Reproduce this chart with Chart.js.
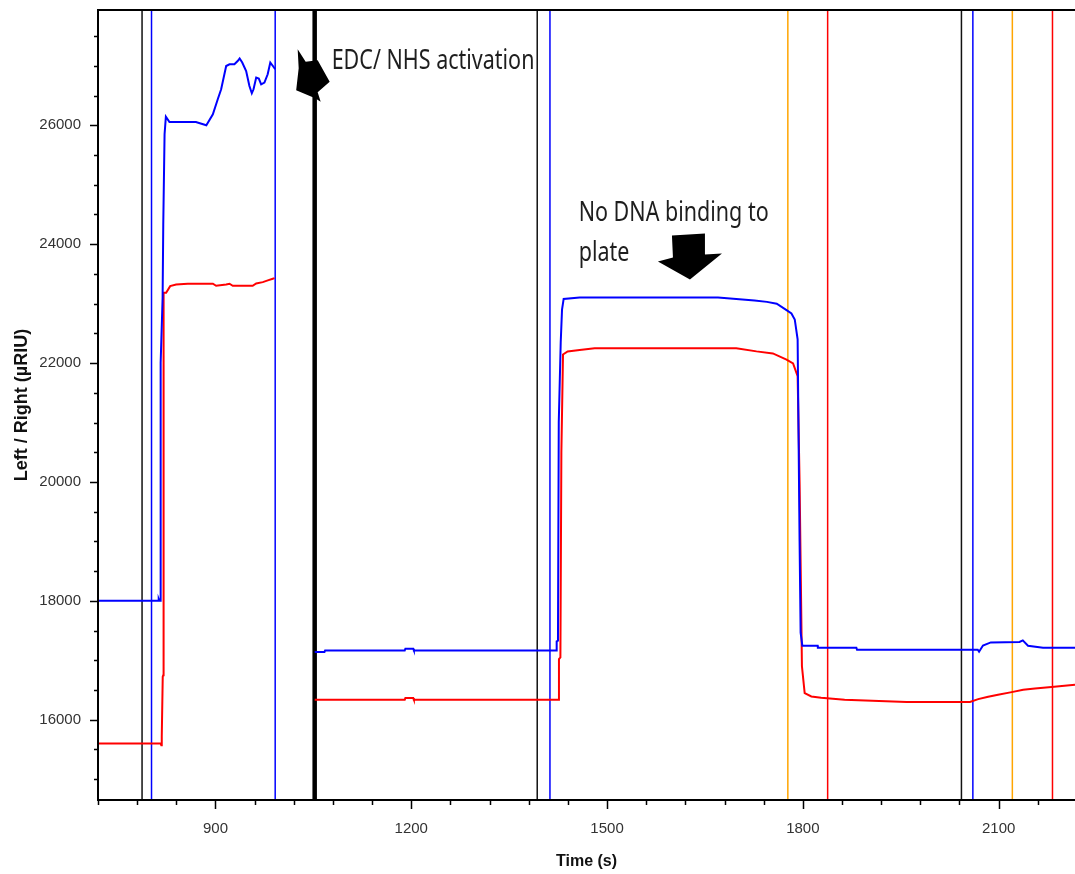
<!DOCTYPE html>
<html>
<head>
<meta charset="utf-8">
<title>Left / Right sensorgram</title>
<script src="https://cdn.jsdelivr.net/npm/chart.js@4.4.0/dist/chart.umd.min.js"></script>
<style>
  body { margin: 0; background: #fff; }
</style>
</head>
<body>
<canvas id="sensorgram" width="1075" height="874"></canvas>
<script>
// axis ranges (time in s, signal in µRIU)
var timeMin = 720, timeMax = 2217;
var riuMin = 14650, riuMax = 27940;

// left channel trace [time, µRIU], null = no data while the cell was switched
var leftTrace = [
  [720,18000],[812,18000],[813,18030],[814,18000],[815,18000],[816,22000],[819,23100],
  [820,24330],[822,25850],[824,26146],[829.5,26056],[870,26056],[886,26000],[896,26185],
  [903.5,26438],[908.7,26606],[916.4,26998],[921.5,27027],[929,27027],[934,27082],
  [937,27123],[941,27056],[947,26914],[952,26662],[955.7,26539],[958.3,26606],
  [962.4,26803],[966.4,26786],[970,26690],[975,26719],[980,26859],[984,27056],
  [988,26998],[991.5,26943],[1020,null],
  [1052,17140],[1067,17140],[1068,17167],[1190,17167],[1191,17195],[1203,17195],
  [1204,17167],[1422.3,17167],[1422.8,17320],[1424.8,17330],[1426,21000],[1429,22350],
  [1431,22900],[1433.5,23080],[1458,23105],[1670,23105],[1726,23054],[1745,23030],
  [1760,23000],[1775,22890],[1782.5,22835],[1787.6,22734],[1792,22400],[1795,19000],
  [1796.6,17465],[1799.2,17246],[1822.7,17246],[1823,17212],[1882,17212],[1883,17178],
  [2068,17178],[2070,17145],[2076,17250],[2088,17301],[2132,17310],[2137,17335],
  [2145,17246],[2168,17212],[2217,17212]
];

// right channel trace [time, µRIU]
var rightTrace = [
  [720,15600],[816,15600],[817,15570],[817.7,15720],[819.2,16724],[820,16750],
  [820.5,23184],[824.4,23184],[830.6,23295],[839.7,23323],[857.5,23335],[896,23335],
  [901,23300],[916.4,23323],[921.5,23335],[926.5,23300],[957,23300],[962.4,23340],
  [972.5,23362],[980.2,23391],[987.8,23419],[990.5,23429],[1020,null],
  [1052,16337],[1190,16337],[1191,16365],[1203,16365],[1204,16337],[1426,16337],
  [1426.3,17020],[1428.5,17050],[1430,20500],[1432.5,22145],[1439.6,22197],
  [1458,22220],[1481,22250],[1698,22250],[1729,22197],[1754,22163],[1775,22060],
  [1785,21993],[1792,21780],[1795,20000],[1798.6,16900],[1802.8,16448],[1813,16392],
  [1828,16370],[1864,16337],[1959,16298],[2056,16298],[2068.7,16347],[2084,16387],
  [2099,16420],[2120,16465],[2137.6,16505],[2155.6,16527],[2181,16550],[2217,16590]
];

// event markers (injection start / stop)
var markerTimes  = [787.5, 802, 991.5, 1052, 1393, 1412.5, 1777, 1838, 2043, 2060.5, 2121, 2182.5];
var markerColors = ['#111','#0000ff','#0000ff','#000','#111','#0000ff','#ffa500','#ff0000','#111','#0000ff','#ffa500','#ff0000'];
var markerWidths = [1.5, 1.5, 1.5, 4.5, 1.5, 1.5, 1.5, 1.5, 1.5, 1.5, 1.5, 1.5];

var timeMajor = 300, timeMinor = 60;
var riuMajor = 2000, riuMinor = 500;

// notes drawn on the plot: anchor in data units, offsets in px
var notes = [
  { lines: ['EDC/ NHS activation'], t: 1078, v: 26943 },
  { lines: ['No DNA binding to', 'plate'], t: 1456.5, v: 24384 }
];
var arrows = [
  { t: 1052, v: 26860, pts: [[-17,-25],[-9,-12.5],[3,-14],[15,7.5],[3,18],[6,27.5],[0.5,24],[-18.5,16],[-16,-6]] },
  { t: 1627, v: 23407, pts: [[-18,-44],[15,-46],[15,-25],[32,-26],[0,0],[-32,-18],[-17,-22]] }
];

function toPoints(trace) {
  return trace.map(function (p) { return { x: p[0], y: p[1] }; });
}

var datasets = [
  { data: toPoints(leftTrace), borderColor: '#0000ff', borderWidth: 2, pointRadius: 0, showLine: true, spanGaps: false },
  { data: toPoints(rightTrace), borderColor: '#ff0000', borderWidth: 2, pointRadius: 0, showLine: true, spanGaps: false }
];
for (var i = 0; i < markerTimes.length; i++) {
  datasets.push({
    data: [{ x: markerTimes[i], y: riuMin }, { x: markerTimes[i], y: riuMax }],
    borderColor: markerColors[i], borderWidth: markerWidths[i],
    pointRadius: 0, showLine: true
  });
}

// frame, tick marks, arrows and notes
var decorations = {
  id: 'decorations',
  afterDraw: function (chart) {
    var ctx = chart.ctx, a = chart.chartArea;
    var xs = chart.scales.x, ys = chart.scales.y;
    ctx.save();
    ctx.strokeStyle = '#000';
    ctx.lineWidth = 2;
    ctx.beginPath();
    ctx.moveTo(a.right + 2, a.top);
    ctx.lineTo(a.left, a.top);
    ctx.lineTo(a.left, a.bottom);
    ctx.lineTo(a.right + 2, a.bottom);
    ctx.stroke();

    ctx.lineWidth = 1.5;
    ctx.beginPath();
    xs.ticks.forEach(function (tk) {
      var px = Math.round(xs.getPixelForValue(tk.value)) + 0.5;
      var len = tk.value % timeMajor === 0 ? 9 : 5;
      ctx.moveTo(px, a.bottom);
      ctx.lineTo(px, a.bottom + len);
    });
    ys.ticks.forEach(function (tk) {
      var py = Math.round(ys.getPixelForValue(tk.value)) + 0.5;
      var len = tk.value % riuMajor === 0 ? 8 : 4;
      ctx.moveTo(a.left, py);
      ctx.lineTo(a.left - len, py);
    });
    ctx.stroke();

    ctx.fillStyle = '#000';
    arrows.forEach(function (ar) {
      var ox = xs.getPixelForValue(ar.t), oy = ys.getPixelForValue(ar.v);
      ctx.beginPath();
      ar.pts.forEach(function (p, k) {
        if (k === 0) ctx.moveTo(ox + p[0], oy + p[1]);
        else ctx.lineTo(ox + p[0], oy + p[1]);
      });
      ctx.closePath();
      ctx.fill();
    });

    ctx.fillStyle = '#1e1e1e';
    ctx.font = '21.5px "Noto Sans", "Open Sans", sans-serif';
    ctx.textBaseline = 'alphabetic';
    notes.forEach(function (n) {
      var x = xs.getPixelForValue(n.t), y = ys.getPixelForValue(n.v);
      n.lines.forEach(function (line, k) {
        ctx.save();
        ctx.translate(x, y + k * 40);
        ctx.scale(1, 1.3);
        ctx.fillText(line, 0, 0);
        ctx.restore();
      });
    });
    ctx.restore();
  }
};

// keep the plot frame fixed: no extra room for the edge tick labels
function fixBox(size, prop) {
  return function (s) {
    s[prop] = size;
    s.paddingLeft = 0; s.paddingRight = 0; s.paddingTop = 0; s.paddingBottom = 0;
  };
}

// minor ticks on every step inside the range
function stepTicks(step) {
  return function (s) {
    var list = [];
    for (var v = Math.ceil(s.min / step) * step; v <= s.max; v += step) list.push({ value: v });
    s.ticks = list;
  };
}

new Chart(document.getElementById('sensorgram'), {
  type: 'scatter',
  data: { datasets: datasets },
  options: {
    responsive: false,
    animation: false,
    layout: { padding: { top: 10, right: 0, left: 0, bottom: 0 } },
    plugins: { legend: { display: false }, tooltip: { enabled: false } },
    scales: {
      x: {
        type: 'linear', min: timeMin, max: timeMax,
        afterBuildTicks: stepTicks(timeMinor),
        afterFit: fixBox(74, 'height'),
        grid: { drawOnChartArea: false, drawTicks: false },
        border: { display: false },
        ticks: {
          autoSkip: false, maxRotation: 0, padding: 20,
          color: '#333', font: { family: '"Liberation Sans", Arial, sans-serif', size: 15 },
          callback: function (v) { return v % timeMajor === 0 ? String(v) : ''; }
        },
        title: {
          display: true, text: 'Time (s)', color: '#111',
          font: { family: '"Liberation Sans", Arial, sans-serif', size: 16, weight: 'bold' },
          padding: { top: 0, bottom: 3 }
        }
      },
      y: {
        type: 'linear', min: riuMin, max: riuMax,
        afterBuildTicks: stepTicks(riuMinor),
        afterFit: fixBox(98, 'width'),
        grid: { drawOnChartArea: false, drawTicks: false },
        border: { display: false },
        ticks: {
          autoSkip: false, padding: 17,
          color: '#333', font: { family: '"Liberation Sans", Arial, sans-serif', size: 15 },
          callback: function (v) { return v % riuMajor === 0 ? String(v) : ''; }
        },
        title: {
          display: true, text: 'Left / Right (µRIU)', color: '#111',
          font: { family: '"Liberation Sans", Arial, sans-serif', size: 18, weight: 'bold' },
          padding: { top: 11, bottom: 0 }
        }
      }
    }
  },
  plugins: [decorations]
});
</script>
</body>
</html>
